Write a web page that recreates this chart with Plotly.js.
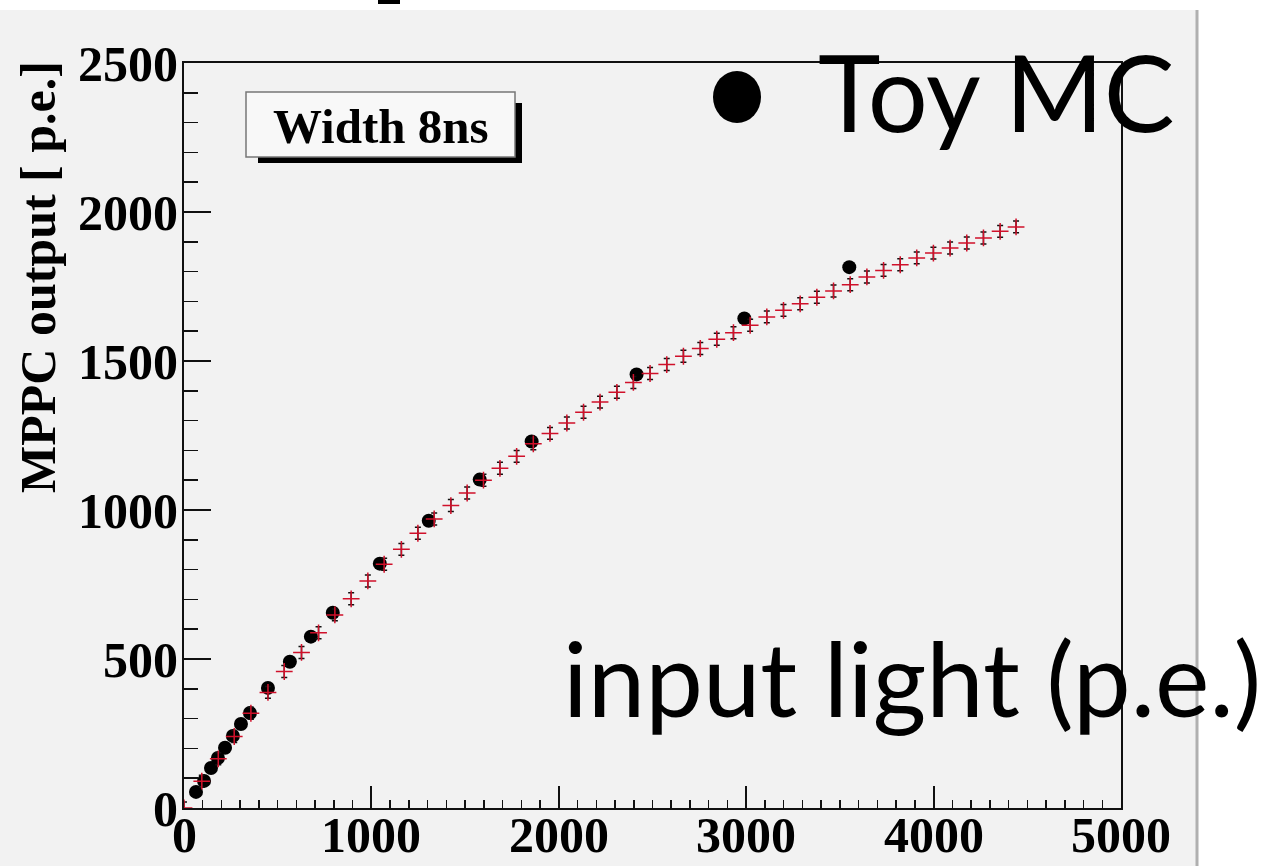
<!DOCTYPE html>
<html>
<head>
<meta charset="utf-8">
<script src="https://cdn.plot.ly/plotly-3.0.1.min.js"></script>
<style>html,body{margin:0;padding:0;background:#fff;}#chart{width:1275px;height:866px;}</style>
</head>
<body>
<div id="chart"></div>
<script>
// Measured points (red crosses with black error bars)
const measX = [0, 95, 183, 268, 357, 448, 535, 627, 718, 805, 892, 981, 1068, 1160, 1248, 1335, 1424, 1511, 1598, 1686, 1775, 1864, 1953, 2043, 2132, 2220, 2310, 2398, 2487, 2576, 2665, 2755, 2843, 2932, 3021, 3110, 3199, 3288, 3377, 3466, 3555, 3644, 3733, 3822, 3910, 3999, 4088, 4177, 4266, 4355, 4440];
const measY = [0, 90, 165, 240, 318, 388, 458, 522, 588, 648, 702, 762, 818, 868, 922, 970, 1015, 1057, 1100, 1140, 1180, 1222, 1257, 1292, 1328, 1362, 1395, 1428, 1458, 1488, 1516, 1542, 1573, 1595, 1620, 1648, 1670, 1692, 1714, 1735, 1756, 1782, 1804, 1823, 1846, 1862, 1879, 1896, 1913, 1935, 1950];
const measErr = 20;

// Toy MC points (black dots)
const toyX = [64, 107, 144, 181, 219, 261, 304, 352, 448, 565, 677, 794, 1045, 1306, 1578, 1855, 2415, 2990, 3550];
const toyY = [54, 91, 134, 168, 202, 242, 282, 319, 403, 491, 575, 655, 820, 964, 1102, 1230, 1455, 1643, 1815];

const xTickVals = [0, 1000, 2000, 3000, 4000, 5000];
const xTickText = ['0', '1000', '2000', '3000', '4000', '5000'];
const yTickVals = [0, 500, 1000, 1500, 2000, 2500];
const yTickText = ['0', '500', '1000', '1500', '2000', '2500'];

const yTitle = 'MPPC output [ p.e.]';
const boxLabel = 'Width 8ns';
const legendLabel = 'Toy MC';
const xLabel = 'input light (p.e.)';

// plot-area geometry in pixels
const L = 184, R = 1121, T = 63, B = 808;
const W = 1275, H = 866;
const px = p => (p - L) / (R - L);
const py = p => (B - p) / (B - T);

const serif = 'Liberation Serif, Times New Roman, serif';
const sans = 'Lato, Open Sans, sans-serif';
const tickFont = {family: serif, size: 50, color: '#000', weight: 'bold'};

const traces = [
  {
    type: 'scatter', mode: 'markers', name: 'Toy MC',
    x: toyX, y: toyY,
    marker: {symbol: 'circle', size: 14, color: '#000'},
    showlegend: false, hoverinfo: 'skip'
  },
  {
    type: 'scatter', mode: 'markers', name: 'data',
    x: measX, y: measY,
    error_y: {type: 'constant', value: measErr, color: '#111', thickness: 1.5, width: 3},
    marker: {symbol: 'cross-thin', size: 12, color: '#d0102a', line: {color: '#d0102a', width: 1.5}},
    showlegend: false, hoverinfo: 'skip'
  }
];

// x tick labels placed via the x scale, just under the axis
const xTickAnn = xTickVals.map((v, i) => ({
  text: xTickText[i], xref: 'x', yref: 'paper', x: v, y: py(805),
  showarrow: false, xanchor: 'center', yanchor: 'top', font: tickFont
}));

const layout = {
  width: W, height: H,
  margin: {l: L, r: W - R, t: T, b: H - B, pad: 0},
  paper_bgcolor: '#ffffff',
  plot_bgcolor: '#f2f2f2',
  showlegend: false,
  xaxis: {
    range: [0, 5000], fixedrange: true,
    tickvals: xTickVals, ticktext: xTickText, showticklabels: false,
    ticks: 'inside', ticklen: 22, tickwidth: 2, tickcolor: '#111',
    minor: {dtick: 100, ticks: 'inside', ticklen: 8, tickwidth: 1.5, tickcolor: '#111'},
    showline: true, linecolor: '#111', linewidth: 2, mirror: true,
    showgrid: false, zeroline: false
  },
  yaxis: {
    range: [0, 2500], fixedrange: true,
    tickvals: yTickVals, ticktext: yTickText,
    ticks: 'inside', ticklen: 27, tickwidth: 2, tickcolor: '#111',
    minor: {dtick: 100, ticks: 'inside', ticklen: 14, tickwidth: 1.5, tickcolor: '#111'},
    showline: true, linecolor: '#111', linewidth: 2, mirror: true,
    showgrid: false, zeroline: false,
    tickfont: tickFont,
    ticklabelstandoff: -6
  },
  shapes: [
    // grey canvas
    {type: 'rect', xref: 'paper', yref: 'paper', layer: 'below',
     x0: px(0), x1: px(1196), y0: py(H), y1: py(10),
     fillcolor: '#f2f2f2', line: {width: 0}},
    {type: 'line', xref: 'paper', yref: 'paper',
     x0: px(1197), x1: px(1197), y0: py(H), y1: py(10),
     line: {color: '#b0b0b0', width: 3}},
    // small artifact at the top
    {type: 'rect', xref: 'paper', yref: 'paper',
     x0: px(378), x1: px(400), y0: py(4), y1: py(0),
     fillcolor: '#000', line: {width: 0}},
    // label box shadow and box
    {type: 'rect', xref: 'paper', yref: 'paper',
     x0: px(258), x1: px(522), y0: py(163), y1: py(103),
     fillcolor: '#000', line: {width: 0}},
    {type: 'rect', xref: 'paper', yref: 'paper',
     x0: px(246), x1: px(515), y0: py(157), y1: py(92),
     fillcolor: '#f8f8f8', line: {color: '#777', width: 1.5}},
    // legend bullet
    {type: 'circle', xref: 'paper', yref: 'paper',
     x0: px(713), x1: px(761), y0: py(123), y1: py(71),
     fillcolor: '#000', line: {width: 0}}
  ],
  annotations: xTickAnn.concat([
    {text: yTitle, xref: 'paper', yref: 'paper', x: px(38), y: py(277),
     textangle: -90, showarrow: false, xanchor: 'center', yanchor: 'middle',
     font: {family: serif, size: 50, color: '#000', weight: 'bold'}},
    {text: boxLabel, xref: 'paper', yref: 'paper', x: px(381), y: py(126),
     showarrow: false, xanchor: 'center', yanchor: 'middle',
     font: {family: serif, size: 49, color: '#000', weight: 'bold'}},
    {text: legendLabel, xref: 'paper', yref: 'paper', x: px(816), y: py(91),
     showarrow: false, xanchor: 'left', yanchor: 'middle',
     font: {family: sans, size: 106, color: '#000'}},
    {text: xLabel, xref: 'paper', yref: 'paper', x: px(561), y: py(677),
     showarrow: false, xanchor: 'left', yanchor: 'middle',
     font: {family: sans, size: 103, color: '#000'}}
  ])
};

Plotly.newPlot('chart', traces, layout, {displayModeBar: false, staticPlot: true});
</script>
</body>
</html>
